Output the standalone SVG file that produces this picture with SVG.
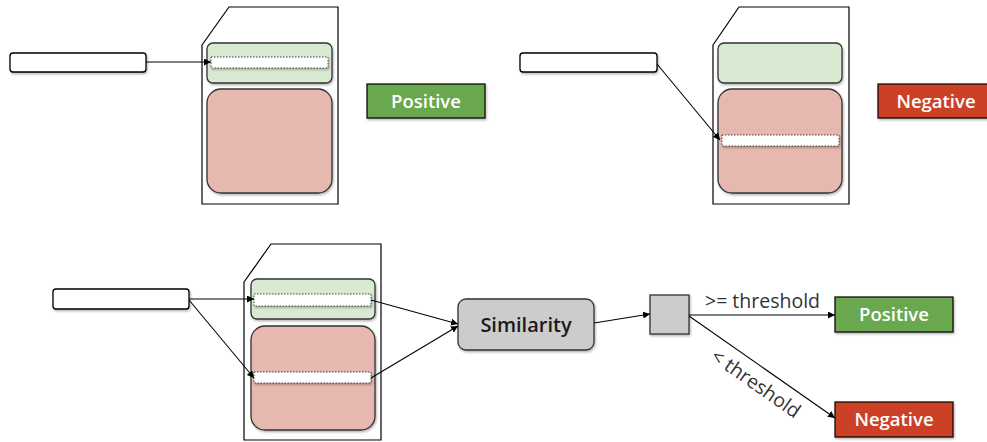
<svg xmlns="http://www.w3.org/2000/svg" width="987" height="442" viewBox="0 0 987 442">
<defs>
<marker id="ah" viewBox="0 0 10 10" refX="10" refY="5" markerWidth="7" markerHeight="7" orient="auto" markerUnits="userSpaceOnUse">
<path d="M0,0 L10,5 L0,10 z" fill="#000"/>
</marker>
<filter id="sh" x="-10%" y="-20%" width="130%" height="150%">
<feDropShadow dx="1" dy="1.5" stdDeviation="1.2" flood-color="#000" flood-opacity="0.3"/>
</filter>
<style>
.inp{fill:#fff;stroke:#000;stroke-width:1.3;filter:url(#sh)}
.card{fill:#fff;stroke:#000;stroke-width:1.2}
.grn{fill:#d9ead3;stroke:#333;stroke-width:1.3;filter:url(#sh)}
.red{fill:#e6b8af;stroke:#333;stroke-width:1.3;filter:url(#sh)}
.bar{fill:#fff;stroke:#444;stroke-width:1;stroke-dasharray:1.5,1.5;filter:url(#sh)}
.pos{fill:#6aa84f;stroke:#000;stroke-width:1.2;filter:url(#sh)}
.neg{fill:#cc4125;stroke:#000;stroke-width:1.2;filter:url(#sh)}
.lbl{font-family:"Open Sans","Noto Sans",sans-serif;font-size:18.5px;font-weight:600;fill:#fff;text-anchor:middle}
.gry{fill:#cccccc;stroke:#333;stroke-width:1.3;filter:url(#sh)}
.sim{font-family:"Open Sans","Noto Sans",sans-serif;font-size:20px;font-weight:600;fill:#1a1a1a;text-anchor:middle}
.thr{font-family:"Open Sans","Noto Sans",sans-serif;font-size:19.5px;font-weight:400;fill:#333}
.con{fill:none;stroke:#000;stroke-width:1.1;marker-end:url(#ah)}
</style>
</defs>

<g id="card1">
<polygon class="card" points="202,45 229,7 338,7 338,204 202,204"/>
<rect class="grn" x="207" y="43" width="125" height="40" rx="6"/>
<rect class="red" x="207" y="89" width="125" height="104" rx="14"/>
<rect class="bar" x="211" y="57" width="117" height="11"/>
</g>
<g id="input1"><rect class="inp" x="10" y="53" width="136" height="19" rx="3"/></g>
<g id="positive1"><rect class="pos" x="367" y="84" width="118" height="34"/><text class="lbl" x="426" y="107.5">Positive</text></g>

<g id="card2">
<polygon class="card" points="713,45 739,7 849,7 849,204 713,204"/>
<rect class="grn" x="718" y="43" width="124" height="40" rx="6"/>
<rect class="red" x="718" y="89" width="124" height="104" rx="14"/>
<rect class="bar" x="722" y="135" width="117" height="11"/>
</g>
<g id="input2"><rect class="inp" x="520" y="53" width="137" height="19" rx="3"/></g>
<g id="negative1"><rect class="neg" x="878" y="84" width="115" height="34"/><text class="lbl" x="936" y="107.5">Negative</text></g>

<g id="card3">
<polygon class="card" points="244,282 271,244 381,244 381,440 244,440"/>
<rect class="grn" x="251" y="279" width="124" height="40" rx="6"/>
<rect class="red" x="251" y="326" width="124" height="104" rx="14"/>
<rect class="bar" x="254" y="294" width="117" height="12"/>
<rect class="bar" x="254" y="372" width="117" height="11"/>
</g>
<g id="input3"><rect class="inp" x="53" y="289" width="136" height="20" rx="3"/></g>
<g id="similarity"><rect class="gry" x="458" y="299" width="136" height="51" rx="8"/><text class="sim" x="526" y="332">Similarity</text></g>
<g id="decision"><rect class="gry" x="650" y="295" width="39" height="39"/></g>
<g id="positive2"><rect class="pos" x="835" y="297" width="118" height="35"/><text class="lbl" x="894" y="321">Positive</text></g>
<g id="negative2"><rect class="neg" x="835" y="402" width="118" height="35"/><text class="lbl" x="894" y="426">Negative</text></g>

<g id="connectors">
<line class="con" x1="146" y1="62" x2="211" y2="62"/>
<line class="con" x1="657" y1="64" x2="720" y2="140"/>
<line class="con" x1="189" y1="299" x2="254" y2="299"/>
<line class="con" x1="189" y1="300" x2="254" y2="378"/>
<line class="con" x1="371" y1="300" x2="458" y2="324"/>
<line class="con" x1="371" y1="378" x2="458" y2="326"/>
<line class="con" x1="594" y1="323" x2="650" y2="314"/>
<line class="con" x1="689" y1="315" x2="835" y2="315"/>
<line class="con" x1="689" y1="316" x2="835" y2="418"/>
<text class="thr" x="705" y="308">&gt;= threshold</text>
<text class="thr" x="0" y="0" text-anchor="middle" transform="translate(752,389) rotate(35)">&lt; threshold</text>
</g>
</svg>
